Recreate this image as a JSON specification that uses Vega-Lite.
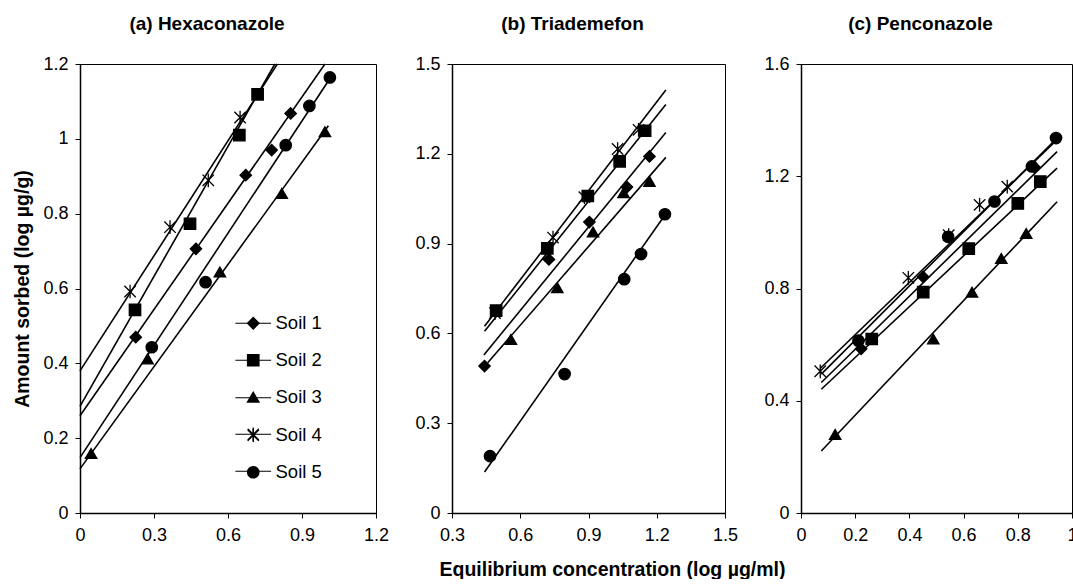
{
  "$schema": "https://vega.github.io/schema/vega-lite/v6.json",
  "background": "white",
  "padding": {"left": 12, "top": 14, "right": 0, "bottom": 0},
  "bounds": "flush",
  "spacing": 76,
  "datasets": {
    "pts": [
      {"panel": "a", "soil": "Soil 1", "x": 0.226, "y": 0.470},
      {"panel": "a", "soil": "Soil 1", "x": 0.470, "y": 0.706},
      {"panel": "a", "soil": "Soil 1", "x": 0.672, "y": 0.903},
      {"panel": "a", "soil": "Soil 1", "x": 0.777, "y": 0.970},
      {"panel": "a", "soil": "Soil 1", "x": 0.854, "y": 1.068},
      {"panel": "a", "soil": "Soil 2", "x": 0.223, "y": 0.543},
      {"panel": "a", "soil": "Soil 2", "x": 0.446, "y": 0.773},
      {"panel": "a", "soil": "Soil 2", "x": 0.646, "y": 1.010},
      {"panel": "a", "soil": "Soil 2", "x": 0.720, "y": 1.119},
      {"panel": "a", "soil": "Soil 3", "x": 0.045, "y": 0.159},
      {"panel": "a", "soil": "Soil 3", "x": 0.274, "y": 0.412},
      {"panel": "a", "soil": "Soil 3", "x": 0.567, "y": 0.644},
      {"panel": "a", "soil": "Soil 3", "x": 0.818, "y": 0.854},
      {"panel": "a", "soil": "Soil 3", "x": 0.993, "y": 1.019},
      {"panel": "a", "soil": "Soil 4", "x": 0.203, "y": 0.592},
      {"panel": "a", "soil": "Soil 4", "x": 0.365, "y": 0.764},
      {"panel": "a", "soil": "Soil 4", "x": 0.520, "y": 0.889},
      {"panel": "a", "soil": "Soil 4", "x": 0.649, "y": 1.057},
      {"panel": "a", "soil": "Soil 5", "x": 0.291, "y": 0.443},
      {"panel": "a", "soil": "Soil 5", "x": 0.509, "y": 0.617},
      {"panel": "a", "soil": "Soil 5", "x": 0.834, "y": 0.983},
      {"panel": "a", "soil": "Soil 5", "x": 0.930, "y": 1.088},
      {"panel": "a", "soil": "Soil 5", "x": 1.013, "y": 1.164},

      {"panel": "b", "soil": "Soil 1", "x": 0.443, "y": 0.491},
      {"panel": "b", "soil": "Soil 1", "x": 0.726, "y": 0.847},
      {"panel": "b", "soil": "Soil 1", "x": 0.904, "y": 0.972},
      {"panel": "b", "soil": "Soil 1", "x": 1.069, "y": 1.089},
      {"panel": "b", "soil": "Soil 1", "x": 1.168, "y": 1.191},
      {"panel": "b", "soil": "Soil 2", "x": 0.494, "y": 0.676},
      {"panel": "b", "soil": "Soil 2", "x": 0.719, "y": 0.884},
      {"panel": "b", "soil": "Soil 2", "x": 0.897, "y": 1.059},
      {"panel": "b", "soil": "Soil 2", "x": 1.037, "y": 1.175},
      {"panel": "b", "soil": "Soil 2", "x": 1.149, "y": 1.277},
      {"panel": "b", "soil": "Soil 3", "x": 0.559, "y": 0.580},
      {"panel": "b", "soil": "Soil 3", "x": 0.763, "y": 0.753},
      {"panel": "b", "soil": "Soil 3", "x": 0.920, "y": 0.939},
      {"panel": "b", "soil": "Soil 3", "x": 1.054, "y": 1.070},
      {"panel": "b", "soil": "Soil 3", "x": 1.168, "y": 1.108},
      {"panel": "b", "soil": "Soil 4", "x": 0.489, "y": 0.668},
      {"panel": "b", "soil": "Soil 4", "x": 0.744, "y": 0.920},
      {"panel": "b", "soil": "Soil 4", "x": 0.882, "y": 1.055},
      {"panel": "b", "soil": "Soil 4", "x": 1.028, "y": 1.216},
      {"panel": "b", "soil": "Soil 4", "x": 1.120, "y": 1.280},
      {"panel": "b", "soil": "Soil 5", "x": 0.467, "y": 0.190},
      {"panel": "b", "soil": "Soil 5", "x": 0.795, "y": 0.464},
      {"panel": "b", "soil": "Soil 5", "x": 1.057, "y": 0.781},
      {"panel": "b", "soil": "Soil 5", "x": 1.131, "y": 0.865},
      {"panel": "b", "soil": "Soil 5", "x": 1.236, "y": 0.998},

      {"panel": "c", "soil": "Soil 1", "x": 0.222, "y": 0.585},
      {"panel": "c", "soil": "Soil 1", "x": 0.451, "y": 0.841},
      {"panel": "c", "soil": "Soil 1", "x": 0.862, "y": 1.232},
      {"panel": "c", "soil": "Soil 2", "x": 0.261, "y": 0.620},
      {"panel": "c", "soil": "Soil 2", "x": 0.451, "y": 0.787},
      {"panel": "c", "soil": "Soil 2", "x": 0.619, "y": 0.942},
      {"panel": "c", "soil": "Soil 2", "x": 0.800, "y": 1.103},
      {"panel": "c", "soil": "Soil 2", "x": 0.883, "y": 1.181},
      {"panel": "c", "soil": "Soil 3", "x": 0.126, "y": 0.280},
      {"panel": "c", "soil": "Soil 3", "x": 0.488, "y": 0.620},
      {"panel": "c", "soil": "Soil 3", "x": 0.631, "y": 0.787},
      {"panel": "c", "soil": "Soil 3", "x": 0.739, "y": 0.907},
      {"panel": "c", "soil": "Soil 3", "x": 0.831, "y": 0.996},
      {"panel": "c", "soil": "Soil 4", "x": 0.071, "y": 0.505},
      {"panel": "c", "soil": "Soil 4", "x": 0.396, "y": 0.838},
      {"panel": "c", "soil": "Soil 4", "x": 0.545, "y": 0.990},
      {"panel": "c", "soil": "Soil 4", "x": 0.659, "y": 1.098},
      {"panel": "c", "soil": "Soil 4", "x": 0.761, "y": 1.163},
      {"panel": "c", "soil": "Soil 5", "x": 0.212, "y": 0.614},
      {"panel": "c", "soil": "Soil 5", "x": 0.543, "y": 0.984},
      {"panel": "c", "soil": "Soil 5", "x": 0.714, "y": 1.110},
      {"panel": "c", "soil": "Soil 5", "x": 0.852, "y": 1.235},
      {"panel": "c", "soil": "Soil 5", "x": 0.941, "y": 1.336}
    ],
    "fit": [
      {"panel": "a", "soil": "Soil 1", "x": 0, "y": 0.260},
      {"panel": "a", "soil": "Soil 1", "x": 0.993, "y": 1.2},
      {"panel": "a", "soil": "Soil 2", "x": 0, "y": 0.285},
      {"panel": "a", "soil": "Soil 2", "x": 0.790, "y": 1.2},
      {"panel": "a", "soil": "Soil 3", "x": 0, "y": 0.118},
      {"panel": "a", "soil": "Soil 3", "x": 1.007, "y": 1.035},
      {"panel": "a", "soil": "Soil 4", "x": 0, "y": 0.380},
      {"panel": "a", "soil": "Soil 4", "x": 0.800, "y": 1.2},
      {"panel": "a", "soil": "Soil 5", "x": 0, "y": 0.148},
      {"panel": "a", "soil": "Soil 5", "x": 1.020, "y": 1.168},

      {"panel": "b", "soil": "Soil 1", "x": 0.440, "y": 0.528},
      {"panel": "b", "soil": "Soil 1", "x": 1.240, "y": 1.271},
      {"panel": "b", "soil": "Soil 2", "x": 0.443, "y": 0.607},
      {"panel": "b", "soil": "Soil 2", "x": 1.240, "y": 1.365},
      {"panel": "b", "soil": "Soil 3", "x": 0.457, "y": 0.502},
      {"panel": "b", "soil": "Soil 3", "x": 1.240, "y": 1.188},
      {"panel": "b", "soil": "Soil 4", "x": 0.443, "y": 0.624},
      {"panel": "b", "soil": "Soil 4", "x": 1.240, "y": 1.413},
      {"panel": "b", "soil": "Soil 5", "x": 0.443, "y": 0.137},
      {"panel": "b", "soil": "Soil 5", "x": 1.240, "y": 1.000},

      {"panel": "c", "soil": "Soil 1", "x": 0.075, "y": 0.465},
      {"panel": "c", "soil": "Soil 1", "x": 0.945, "y": 1.288},
      {"panel": "c", "soil": "Soil 2", "x": 0.075, "y": 0.441},
      {"panel": "c", "soil": "Soil 2", "x": 0.945, "y": 1.229},
      {"panel": "c", "soil": "Soil 3", "x": 0.075, "y": 0.221},
      {"panel": "c", "soil": "Soil 3", "x": 0.945, "y": 1.109},
      {"panel": "c", "soil": "Soil 4", "x": 0.071, "y": 0.515},
      {"panel": "c", "soil": "Soil 4", "x": 0.945, "y": 1.330},
      {"panel": "c", "soil": "Soil 5", "x": 0.075, "y": 0.495},
      {"panel": "c", "soil": "Soil 5", "x": 0.945, "y": 1.336}
    ]
  },
  "resolve": {"scale": {"shape": "independent"}},
  "hconcat": [
    {
      "width": 296,
      "height": 449,
      "title": {"text": "(a) Hexaconazole", "frame": "group", "anchor": "middle", "dx": -21, "offset": 21},
      "resolve": {"scale": {"shape": "independent"}, "legend": {"shape": "independent"}},
      "layer": [
        {
          "data": {"name": "fit"},
          "transform": [{"filter": "datum.panel == 'a'"}],
          "mark": {"type": "line", "color": "black", "strokeWidth": 1.6},
          "encoding": {
            "x": {"field": "x", "type": "quantitative", "scale": {"domain": [0, 1.2], "nice": false},
                  "axis": {"title": null, "values": [0, 0.3, 0.6, 0.9, 1.2], "format": "~g"}},
            "y": {"field": "y", "type": "quantitative", "scale": {"domain": [0, 1.2], "nice": false},
                  "axis": {"title": "Amount sorbed (log µg/g)", "values": [0, 0.2, 0.4, 0.6, 0.8, 1, 1.2], "format": "~g"}},
            "detail": {"field": "soil"}
          }
        },
        {
          "data": {"name": "fit"},
          "transform": [{"filter": "datum.panel == 'a'"}],
          "mark": {"type": "point", "filled": false, "color": "black", "strokeWidth": 1.1, "opacity": 0},
          "encoding": {
            "x": {"field": "x", "type": "quantitative"},
            "y": {"field": "y", "type": "quantitative"},
            "shape": {
              "field": "soil", "type": "nominal",
              "scale": {
                "domain": ["Soil 1", "Soil 2", "Soil 3", "Soil 4", "Soil 5"],
                "range": [
                  "M-3.2,0H3.2",
                  "M-3.2,0H3.2",
                  "M-3.2,0.1H3.2",
                  "M-3.2,0H3.2M-1,-1L1,1M-1,1L1,-1M0,-1.2L0,1.2",
                  "M-3.2,0H3.2"
                ]
              },
              "legend": {
                "title": null,
                "orient": "none",
                "legendX": 164,
                "legendY": 250,
                "padding": 0,
                "symbolSize": 125,
                "symbolStrokeWidth": 1.1,
                "symbolOpacity": 1,
                "labelFont": "Liberation Sans",
                "labelFontSize": 18.5,
                "labelOpacity": 0,
                "labelOffset": 13,
                "rowPadding": 18
              }
            }
          }
        },
        {
          "data": {"name": "pts"},
          "transform": [{"filter": "datum.panel == 'a'"}],
          "mark": {"type": "point", "filled": true, "color": "black", "stroke": "black", "strokeWidth": 1.3, "size": 130, "opacity": 1},
          "encoding": {
            "x": {"field": "x", "type": "quantitative"},
            "y": {"field": "y", "type": "quantitative"},
            "shape": {
              "field": "soil", "type": "nominal",
              "scale": {
                "domain": ["Soil 1", "Soil 2", "Soil 3", "Soil 4", "Soil 5"],
                "range": ["diamond", "square", "triangle-up", "M-1,-1L1,1M-1,1L1,-1M0,-1.2L0,1.2", "circle"]
              },
              "legend": {
                "title": null,
                "orient": "none",
                "legendX": 164,
                "legendY": 250,
                "padding": 0,
                "symbolSize": 125,
                "symbolOpacity": 1,
                "labelFont": "Liberation Sans",
                "labelFontSize": 18.5,
                "labelColor": "black",
                "labelOffset": 13,
                "rowPadding": 18
              }
            }
          }
        }
      ]
    },
    {
      "width": 273,
      "height": 449,
      "title": {"text": "(b) Triademefon", "frame": "group", "anchor": "middle", "dx": -16, "offset": 21},
      "layer": [
        {
          "data": {"name": "fit"},
          "transform": [{"filter": "datum.panel == 'b'"}],
          "mark": {"type": "line", "color": "black", "strokeWidth": 1.6},
          "encoding": {
            "x": {"field": "x", "type": "quantitative", "scale": {"domain": [0.3, 1.5], "nice": false, "zero": false},
                  "axis": {"title": "Equilibrium concentration (log µg/ml)", "titleX": 160, "values": [0.3, 0.6, 0.9, 1.2, 1.5], "format": "~g"}},
            "y": {"field": "y", "type": "quantitative", "scale": {"domain": [0, 1.5], "nice": false},
                  "axis": {"title": null, "values": [0, 0.3, 0.6, 0.9, 1.2, 1.5], "format": "~g"}},
            "detail": {"field": "soil"}
          }
        },
        {
          "data": {"name": "pts"},
          "transform": [{"filter": "datum.panel == 'b'"}],
          "mark": {"type": "point", "filled": true, "color": "black", "stroke": "black", "strokeWidth": 1.3, "size": 130, "opacity": 1},
          "encoding": {
            "x": {"field": "x", "type": "quantitative"},
            "y": {"field": "y", "type": "quantitative"},
            "shape": {
              "field": "soil", "type": "nominal",
              "scale": {
                "domain": ["Soil 1", "Soil 2", "Soil 3", "Soil 4", "Soil 5"],
                "range": ["diamond", "square", "triangle-up", "M-1,-1L1,1M-1,1L1,-1M0,-1.2L0,1.2", "circle"]
              },
              "legend": null
            }
          }
        }
      ]
    },
    {
      "width": 271,
      "height": 449,
      "title": {"text": "(c) Penconazole", "frame": "group", "anchor": "middle", "dx": -16, "offset": 21},
      "layer": [
        {
          "data": {"name": "fit"},
          "transform": [{"filter": "datum.panel == 'c'"}],
          "mark": {"type": "line", "color": "black", "strokeWidth": 1.6},
          "encoding": {
            "x": {"field": "x", "type": "quantitative", "scale": {"domain": [0, 1], "nice": false},
                  "axis": {"title": null, "values": [0, 0.2, 0.4, 0.6, 0.8, 1], "format": "~g"}},
            "y": {"field": "y", "type": "quantitative", "scale": {"domain": [0, 1.6], "nice": false},
                  "axis": {"title": null, "values": [0, 0.4, 0.8, 1.2, 1.6], "format": "~g"}},
            "detail": {"field": "soil"}
          }
        },
        {
          "data": {"name": "pts"},
          "transform": [{"filter": "datum.panel == 'c'"}],
          "mark": {"type": "point", "filled": true, "color": "black", "stroke": "black", "strokeWidth": 1.3, "size": 130, "opacity": 1},
          "encoding": {
            "x": {"field": "x", "type": "quantitative"},
            "y": {"field": "y", "type": "quantitative"},
            "shape": {
              "field": "soil", "type": "nominal",
              "scale": {
                "domain": ["Soil 1", "Soil 2", "Soil 3", "Soil 4", "Soil 5"],
                "range": ["diamond", "square", "triangle-up", "M-1,-1L1,1M-1,1L1,-1M0,-1.2L0,1.2", "circle"]
              },
              "legend": null
            }
          }
        }
      ]
    }
  ],
  "config": {
    "font": "Liberation Sans",
    "view": {"stroke": "black", "strokeWidth": 1},
    "title": {"font": "Liberation Sans", "fontSize": 19, "fontWeight": "bold", "color": "black"},
    "axis": {
      "grid": false,
      "domainColor": "black",
      "domainWidth": 1.5,
      "tickColor": "black",
      "tickSize": 5,
      "tickWidth": 1,
      "labelFont": "Liberation Sans",
      "labelFontSize": 18,
      "labelColor": "black",
      "labelFlush": false,
      "labelOverlap": false,
      "labelPadding": 7,
      "titleFont": "Liberation Sans",
      "titleFontSize": 19.5,
      "titleFontWeight": "bold",
      "titleColor": "black",
      "titlePadding": 10
    },
    "axisX": {"labelPadding": 8, "titlePadding": 16}
  }
}
